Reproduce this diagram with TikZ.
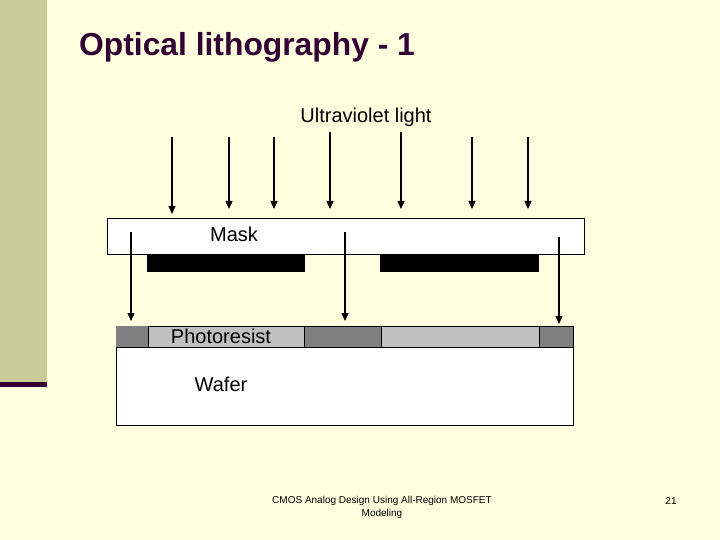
\documentclass[tikz,border=0pt]{standalone}
\usepackage{fontspec}
\setmainfont{Liberation Sans}
\usetikzlibrary{arrows.meta}
\definecolor{bg}{RGB}{255,255,224}
\definecolor{side}{RGB}{202,202,154}
\definecolor{purp}{RGB}{51,0,51}
\definecolor{dkgray}{RGB}{128,128,128}
\definecolor{ltgray}{RGB}{192,192,192}
\tikzset{
  ray/.style={line width=1.3pt,-{Triangle[length=8pt,width=7pt]}},
  lbl/.style={inner sep=0pt,font=\fontsize{20}{22}\selectfont},
  darkpr/.style={fill=dkgray,draw=black,line width=0.8pt},
  lightpr/.style={fill=ltgray,draw=black,line width=0.8pt},
}
\begin{document}
\begin{tikzpicture}[x=1pt,y=-1pt]
\useasboundingbox (0,0) rectangle (720,540);
\fill[bg] (0,0) rectangle (720,540);
\fill[side] (0,0) rectangle (47,382);
\fill[purp] (0,382) rectangle (47,387);
\node[anchor=base west,inner sep=0pt,text=purp,font=\fontsize{31.8}{34}\selectfont\bfseries] (title) at (79,56) {Optical lithography - 1};
\node[lbl] (uv) at (366,117) {Ultraviolet light};
% mask
\node[draw=black,fill=white,line width=0.8pt,minimum width=477pt,minimum height=36pt,inner sep=0pt,anchor=north west] (mask) at (107,218) {};
\node[lbl] (masklbl) at (234,234) {Mask};
\fill[black] (147,254) rectangle (305,272);
\fill[black] (380,254) rectangle (539,272);
% wafer
\node[draw=black,fill=white,line width=0.8pt,minimum width=457pt,minimum height=78pt,inner sep=0pt,anchor=north west] (wafer) at (116,347) {};
\node[lbl] (waferlbl) at (221,384) {Wafer};
% photoresist
\fill[dkgray] (116,326) rectangle (148,347);
\draw[lightpr] (148,326) rectangle (304,347);
\draw[darkpr] (304,326) rectangle (381,347);
\draw[lightpr] (381,326) rectangle (539,347);
\draw[darkpr] (539,326) rectangle (573,347);
\node[lbl] (prlbl) at (221,336) {Photoresist};
% incoming rays
\foreach \x/\t/\b in {172/137/214, 229/137/209, 274/137/209, 330/132/209, 401/132/209, 472/137/209, 528/137/209}{
  \coordinate (s\x) at (\x,\t); \coordinate (e\x) at (\x,\b);
  \draw[ray] (s\x) -- (e\x);
}
% transmitted rays
\foreach \x/\t/\b in {131/232/321, 345/232/321, 559/237/324}{
  \coordinate (ts\x) at (\x,\t); \coordinate (te\x) at (\x,\b);
  \draw[ray] (ts\x) -- (te\x);
}
% footer
\node[align=center,inner sep=0pt,font=\fontsize{10}{13}\selectfont] (foot) at (382,507) {CMOS Analog Design Using All-Region MOSFET\\Modeling};
\node[inner sep=0pt,font=\fontsize{10}{12}\selectfont] (pg) at (671,501) {21};
\end{tikzpicture}
\end{document}
